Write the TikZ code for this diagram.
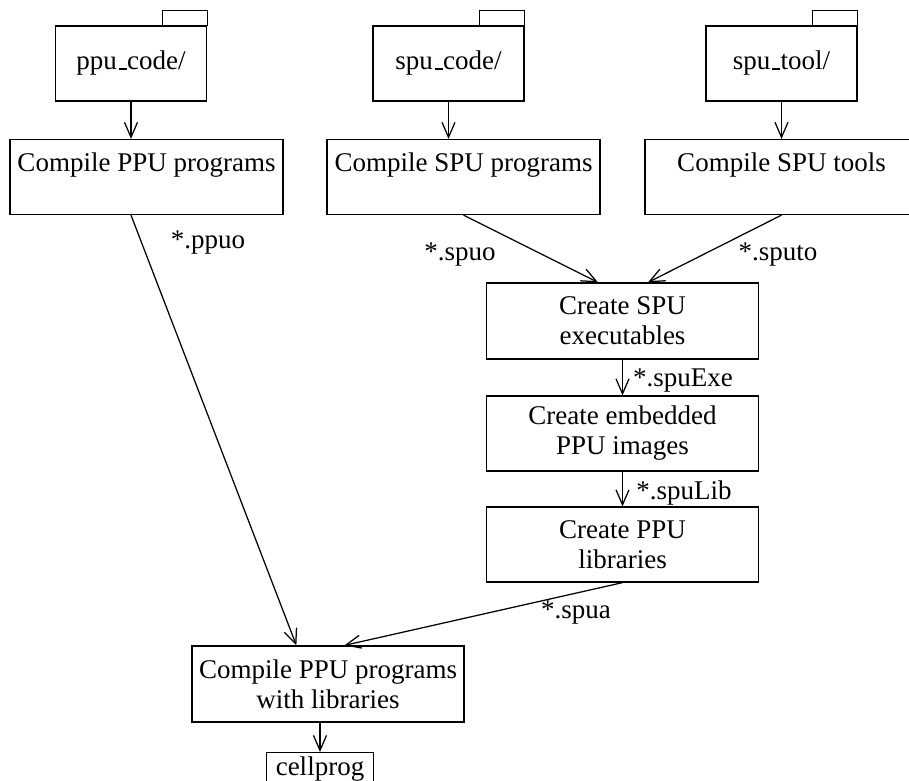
\documentclass[tikz,border=0pt]{standalone}
\usepackage{fontspec}
\setmainfont{Liberation Serif}
\usetikzlibrary{arrows.meta,calc}

% low, short underscore bar sitting on the baseline
\newcommand\lowbar{\kern.06em\rule{.3em}{2.4pt}\kern.02em}

\begin{document}
\begin{tikzpicture}[x=1pt,y=-1pt,
  line width=1.25pt,
  every node/.style={font=\fontsize{27}{30}\selectfont},
  box/.style={draw,rectangle,inner sep=0pt,align=center,minimum width=273pt,minimum height=75pt},
  folder/.style={draw,rectangle,inner sep=0pt,minimum width=151pt,minimum height=75pt},
  flow/.style={-{Straight Barb[length=15pt,width=13pt,line width=1.25pt]}},
  lbl/.style={inner sep=0pt}
]
\useasboundingbox (0,0) rectangle (909,780);

% source folders
\node[folder] (ppuF)  at (131,63.5)   {ppu\lowbar code/};
\node[folder] (spuF)  at (448.5,63.5) {spu\lowbar code/};
\node[folder] (toolF) at (781.5,63.5) {spu\lowbar tool/};
\foreach \f in {ppuF,spuF,toolF}
  \draw (\f.north east) rectangle ++(-45,-15);

% compile steps
\node[box] (cppu)  at (146.5,177) {Compile PPU programs\\\mbox{}};
\node[box] (cspu)  at (463.5,177) {Compile SPU programs\\\mbox{}};
\node[box] (ctool) at (781.5,177) {Compile SPU tools\\\mbox{}};

% SPU chain
\node[box,minimum width=272pt,minimum height=76pt] (exe) at (622.5,321) {Create SPU\\executables};
\node[box,minimum width=272pt] (emb) at (622.5,433.5) {Create embedded\\PPU images};
\node[box,minimum width=272pt] (lib) at (622.5,544.5) {Create PPU\\libraries};

% final link
\node[box,minimum width=272pt,minimum height=76pt] (clib) at (328,684) {Compile PPU programs\\with libraries};
\node[draw,rectangle,inner xsep=9pt,inner ysep=4pt,anchor=north] (cell) at (320,752) {cellprog};

% connectors
\draw[flow] (ppuF.south) -- (ppuF.south |- cppu.north);
\draw[flow] (spuF.south) -- (spuF.south |- cspu.north);
\draw[flow] (toolF.south) -- (toolF.south |- ctool.north);

\draw[flow] (ppuF.south |- cppu.south) -- ($(clib.north west)+(105,0)$);
\draw[flow] (cspu.south) -- ($(exe.north)+(-24.5,0)$);
\draw[flow] (ctool.south) -- ($(exe.north)+(25.5,0)$);
\draw[flow] (exe.south) -- (emb.north);
\draw[flow] (emb.south) -- (lib.north);
\draw[flow] (lib.south) -- ($(clib.north west)+(153,0)$);
\draw[flow] (clib.south -| cell.north) -- (cell.north);

% data labels
\node[lbl] (lppuo)  at (208,243) {*.ppuo};
\node[lbl] (lspuo)  at (460,255) {*.spuo};
\node[lbl] (lsputo) at (778,255) {*.sputo};
\node[lbl] (lexe)   at (683,381) {*.spuExe};
\node[lbl] (llib)   at (684,493) {*.spuLib};
\node[lbl] (lspua)  at (576,613) {*.spua};
\end{tikzpicture}
\end{document}
